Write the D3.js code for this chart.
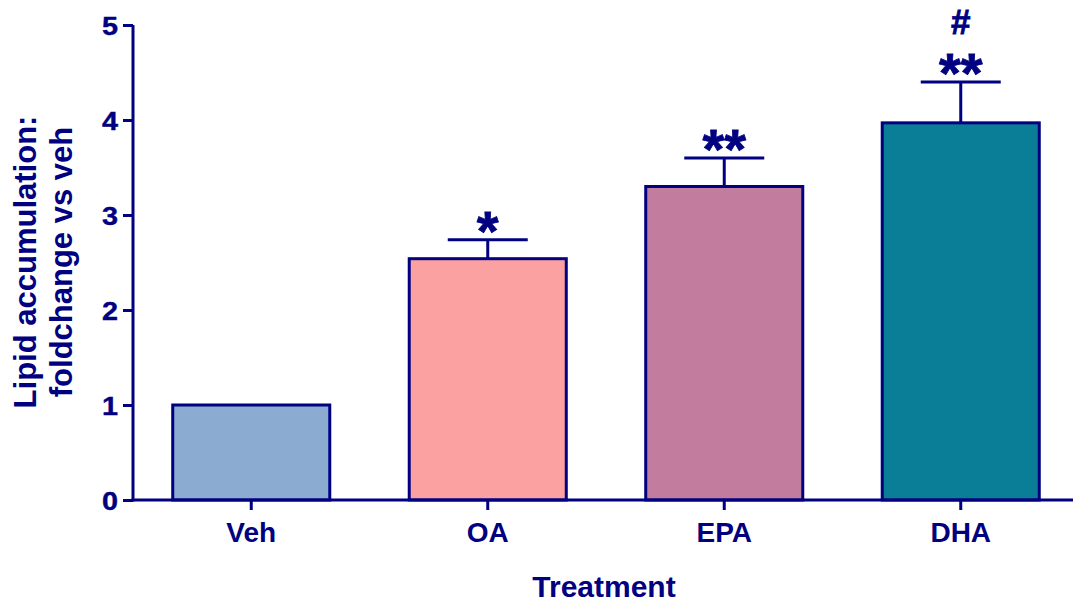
<!DOCTYPE html>
<html>
<head>
<meta charset="utf-8">
<script src="https://cdn.jsdelivr.net/npm/d3@7"></script>
<style>
  html, body { margin: 0; padding: 0; background: #fff; }
  svg text { font-family: "Liberation Sans", Arial, sans-serif; font-weight: bold; fill: #000080; }
</style>
</head>
<body>
<svg id="chart" width="1075" height="604"></svg>
<script>
// Lipid accumulation (fold change vs vehicle), mean + SEM
const categories = ["Veh", "OA", "EPA", "DHA"];
const means = [1.0, 2.54, 3.30, 3.97];
const sems = [0, 0.20, 0.30, 0.43];
const stars = ["", "*", "**", "**"];
const hashes = ["", "", "", "#"];
const fills = ["#8BABD1", "#FBA1A2", "#C27D9E", "#0A7E96"];
const yTicks = [0, 1, 2, 3, 4, 5];

const navy = "#000080";
const svg = d3.select("#chart");

const x0 = 133, yBase = 500, yTop = 25;
const x = d3.scaleBand().domain(categories).range([x0, x0 + 4 * 236.5])
  .paddingInner(0.336).paddingOuter(0.168);
const y = d3.scaleLinear().domain([0, 5]).range([yBase, yTop]);

// bars
svg.append("g").selectAll("rect").data(categories).join("rect")
  .attr("x", d => x(d))
  .attr("y", (d, i) => y(means[i]))
  .attr("width", x.bandwidth())
  .attr("height", (d, i) => yBase - y(means[i]))
  .attr("fill", (d, i) => fills[i])
  .attr("stroke", navy)
  .attr("stroke-width", 3);

// upper error bars
const eb = svg.append("g").attr("stroke", navy).attr("stroke-width", 3);
categories.forEach((c, i) => {
  if (!sems[i]) return;
  const cx = x(c) + x.bandwidth() / 2;
  const top = y(means[i] + sems[i]);
  eb.append("line").attr("x1", cx).attr("x2", cx).attr("y1", y(means[i])).attr("y2", top);
  eb.append("line").attr("x1", cx - 40).attr("x2", cx + 40).attr("y1", top).attr("y2", top);
});

// significance markers
categories.forEach((c, i) => {
  const cx = x(c) + x.bandwidth() / 2;
  const top = y(means[i] + sems[i]);
  if (stars[i]) {
    svg.append("text").attr("x", cx).attr("y", top + 10)
      .attr("text-anchor", "middle").style("font-size", "56px")
      .attr("stroke", navy).attr("stroke-width", 0.8).text(stars[i]);
  }
  if (hashes[i]) {
    svg.append("text").attr("x", cx).attr("y", top - 48)
      .attr("text-anchor", "middle").style("font-size", "35px")
      .attr("stroke", navy).attr("stroke-width", 0.8).text(hashes[i]);
  }
});

// y axis
const yAxis = svg.append("g").attr("transform", `translate(${x0},0)`)
  .call(d3.axisLeft(y).tickValues(yTicks).tickFormat(d3.format("d")).tickSize(10).tickPadding(5));
yAxis.select(".domain").attr("stroke", navy).attr("stroke-width", 3).attr("d", `M0,${yBase + 1.5}V${yTop}`);
yAxis.selectAll(".tick line").attr("stroke", navy).attr("stroke-width", 3);
yAxis.selectAll(".tick text").style("font-size", "25px").attr("fill", navy)
  .attr("stroke", navy).attr("stroke-width", 0.4)
  .attr("x", null).attr("dy", "0.36em")
  .attr("transform", "translate(-15,0) scale(1.15,1)");

// x axis
const xAxis = svg.append("g").attr("transform", `translate(0,${yBase})`)
  .call(d3.axisBottom(x).tickSize(10).tickPadding(12));
xAxis.select(".domain").attr("stroke", navy).attr("stroke-width", 3).attr("d", `M${x0 - 1.5},0H1073`);
xAxis.selectAll(".tick line").attr("stroke", navy).attr("stroke-width", 3);
xAxis.selectAll(".tick text").style("font-size", "28px").attr("fill", navy);

// axis titles
svg.append("text").attr("x", 604).attr("y", 597).attr("text-anchor", "middle")
  .style("font-size", "30px").text("Treatment");

const yt = svg.append("text").attr("transform", "translate(0,262) rotate(-90)")
  .attr("text-anchor", "middle").style("font-size", "31px");
yt.append("tspan").attr("x", 0).attr("y", 36).text("Lipid accumulation:");
yt.append("tspan").attr("x", 0).attr("y", 72).text("foldchange vs veh");
</script>
</body>
</html>
